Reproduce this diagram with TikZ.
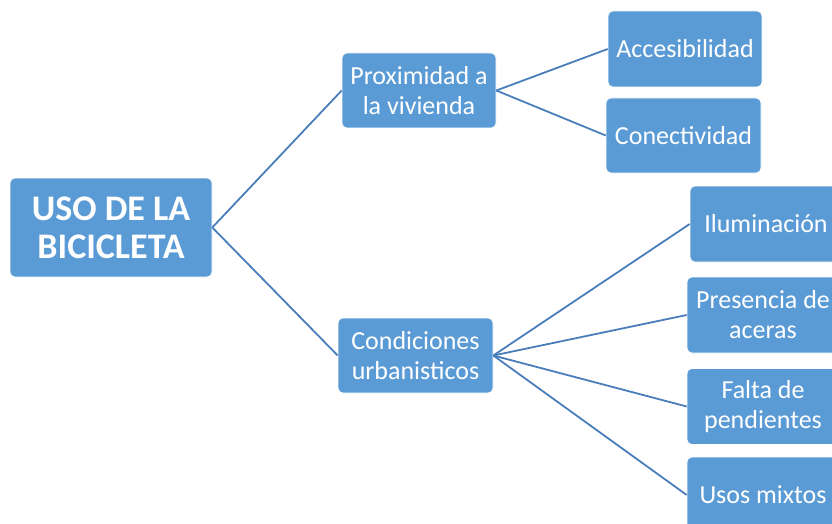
\documentclass[tikz,border=0pt]{standalone}
\usepackage{fontspec}
\setmainfont{Carlito}
\definecolor{boxblue}{HTML}{5B9BD5}
\definecolor{lineblue}{HTML}{4A7EBB}
\tikzset{
  box/.style={rectangle, rounded corners=5pt, fill=boxblue, draw=white, line width=0.6pt, text=white, align=center, inner sep=0pt, font=\fontsize{26}{30}\selectfont},
  rootbox/.style={box, font=\fontsize{36}{38}\selectfont\bfseries},
  link/.style={draw=lineblue, line width=1.8pt}
}
\begin{document}
\begin{tikzpicture}[x=1pt,y=-1pt]
\useasboundingbox (0,0) rectangle (832,524);
\clip (0,0) rectangle (832,524);
\node[rootbox, minimum width=202pt, minimum height=99pt] (root) at (111,227.5) {USO DE LA\\BICICLETA};
\node[box, minimum width=154pt, minimum height=75pt] (prox) at (419,90.5) {Proximidad a\\la vivienda};
\node[box, minimum width=155pt, minimum height=75pt] (cond) at (415.5,355.5) {Condiciones\\urbanisticos};
\node[box, minimum width=154pt, minimum height=76pt] (acc) at (685,49) {Accesibilidad};
\node[box, minimum width=155pt, minimum height=75pt] (con) at (683.5,135.5) {Conectividad};
\node[box, minimum width=152pt, minimum height=76pt] (ilu) at (766,224) {Iluminación};
\node[box, minimum width=152pt, minimum height=76pt] (pre) at (763,315) {Presencia de\\aceras};
\node[box, minimum width=152pt, minimum height=76pt] (fal) at (763,406.5) {Falta de\\pendientes};
\node[box, minimum width=152pt, minimum height=76pt] (uso) at (763,495) {Usos mixtos};
\draw[link] (root.east) -- (prox.west);
\draw[link] (root.east) -- (cond.west);
\draw[link] (prox.east) -- (acc.west);
\draw[link] (prox.east) -- (con.west);
\draw[link] (cond.east) -- (ilu.west);
\draw[link] (cond.east) -- (pre.west);
\draw[link] (cond.east) -- (fal.west);
\draw[link] (cond.east) -- (uso.west);
\end{tikzpicture}
\end{document}
